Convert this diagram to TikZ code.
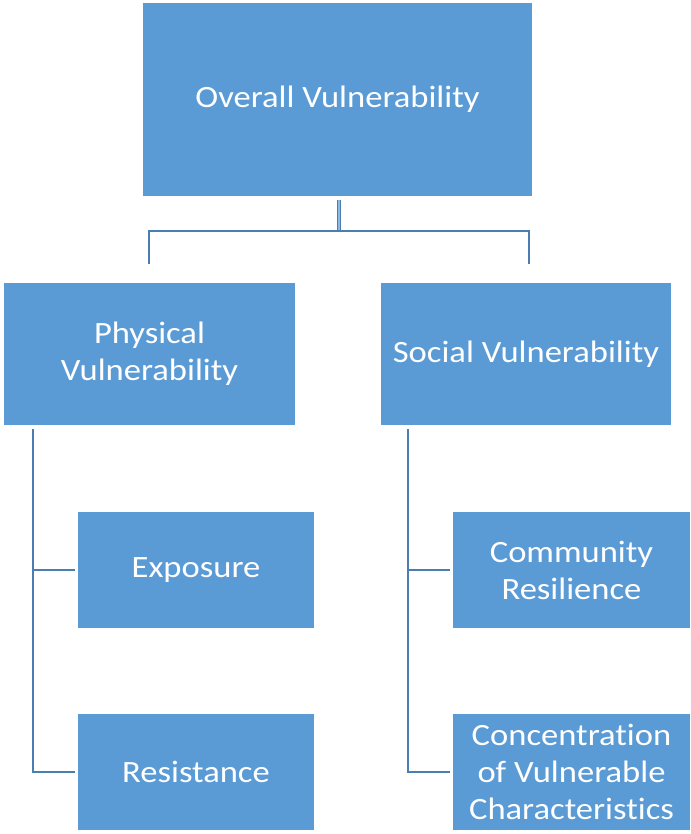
\documentclass[tikz,border=0pt]{standalone}
\usepackage{fontspec}
\setmainfont{Carlito}[FakeStretch=1.115, Ligatures=NoCommon]
\definecolor{boxfill}{HTML}{5B9BD5}
\definecolor{linkcol}{HTML}{4A7EB0}
\begin{document}
\begin{tikzpicture}[x=1pt,y=-1pt,
  box/.style={rectangle, fill=boxfill, draw=none, text=white, align=center,
    inner sep=0pt, font=\fontsize{31}{37}\selectfont},
  link/.style={draw=linkcol, line width=2.9pt}]
\useasboundingbox (0,0) rectangle (690,834);

% boxes
\node[box, minimum width=389pt, minimum height=193pt] (top) at (337.5,99.5) {Overall Vulnerability};
\node[box, minimum width=291pt, minimum height=142pt] (phys) at (149.5,354) {Physical\\Vulnerability};
\node[box, minimum width=290pt, minimum height=142pt] (soc) at (526,354) {Social Vulnerability};
\node[box, minimum width=236pt, minimum height=116pt] (expo) at (196,570) {Exposure};
\node[box, minimum width=236pt, minimum height=116pt] (resi) at (196,772) {Resistance};
\node[box, minimum width=237pt, minimum height=116pt] (comm) at (571.5,570) {Community\\Resilience};
\node[box, minimum width=237pt, minimum height=116pt] (conc) at (571.5,772) {Concentration\\of Vulnerable\\Characteristics};

% junction points
\coordinate (tj) at (339,200);
\coordinate (tm) at (339,231);
\coordinate (pl) at (149,264);
\coordinate (sr) at (529,264);
\coordinate (ls) at (33,429);
\coordinate (rs) at (408,429);

% top connector (double stem)
\draw[draw=linkcol, line width=1.7pt, double=boxfill!70, double distance=1.2pt] (tj) -- (tm);
\draw[link] (pl) |- (tm) -| (sr);

% left branch
\draw[link] (ls) |- ([xshift=-3pt]resi.west);
\draw[link] (ls |- expo.west) -- ([xshift=-3pt]expo.west);

% right branch
\draw[link] (rs) |- ([xshift=-3pt]conc.west);
\draw[link] (rs |- comm.west) -- ([xshift=-3pt]comm.west);
\end{tikzpicture}
\end{document}
